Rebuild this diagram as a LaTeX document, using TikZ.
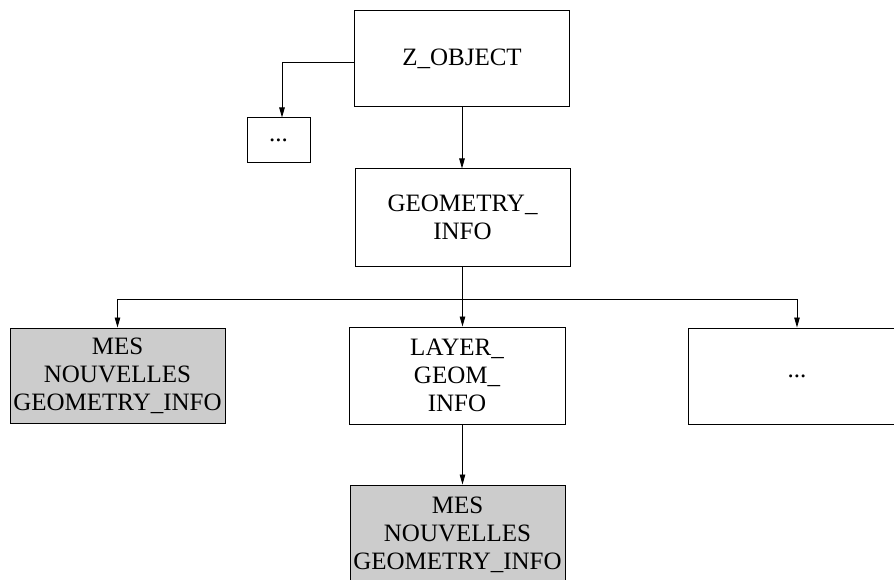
\documentclass[tikz,border=0pt]{standalone}
\usepackage{fontspec}
\setmainfont{Liberation Serif}
\usepackage{tikz}
\usetikzlibrary{arrows.meta,positioning,calc}
\usepackage{xcolor}
\tikzset{
  gibox/.style={draw, rectangle, line width=1pt, inner sep=0pt, align=center,
    font=\fontsize{25}{28}\selectfont},
  giband/.style={gibox, fill=black!20},
  giarrow/.style={-{Triangle[length=10pt,width=5.5pt]}, line width=0.9pt},
  giline/.style={line width=0.9pt},
}

\begin{document}
\begin{tikzpicture}[x=1pt,y=-1pt]
  \useasboundingbox (0,0) rectangle (894,580);
  \clip (0,0) rectangle (894,580);

  \node[gibox, minimum width=215pt, minimum height=96pt] (zobj) at (462,59) {Z\_OBJECT};
  \node[gibox, minimum width=63pt, minimum height=45pt] (dotsa) at (278.5,140.5) {...};
  \node[gibox, minimum width=215pt, minimum height=97pt] (geom) at (462.5,217.5)
    {GEOMETRY\_\\INFO};

  \node[giband, minimum width=215pt, minimum height=95pt] (mesa) at (117.5,375.5)
    {MES\\NOUVELLES\\GEOMETRY\_INFO};
  \node[gibox, minimum width=216pt, minimum height=97pt] (layer) at (457,375.5)
    {LAYER\_\\GEOM\_\\INFO};
  \node[gibox, minimum width=218pt, minimum height=96pt] (dotsb) at (797,376) {...};

  \node[giband, minimum width=215pt, minimum height=100pt] (mesb) at (457.5,535)
    {MES\\NOUVELLES\\GEOMETRY\_INFO};

  % links
  \draw[giarrow] ($(zobj.west)+(0,3)$) -| ($(dotsa.north)+(3.5,0)$);
  \draw[giarrow] (zobj.south) -- (zobj.south |- geom.north);

  \coordinate (fork) at ($(geom.south)+(0,33)$);
  \draw[giline] (geom.south) -- (fork);
  \draw[giarrow] (fork) -| (mesa.north);
  \draw[giarrow] (fork) -| (dotsb.north);
  \draw[giarrow] (fork) -- (fork |- layer.north);
  \draw[giarrow] (fork |- layer.south) -- (fork |- mesb.north);
\end{tikzpicture}
\end{document}
